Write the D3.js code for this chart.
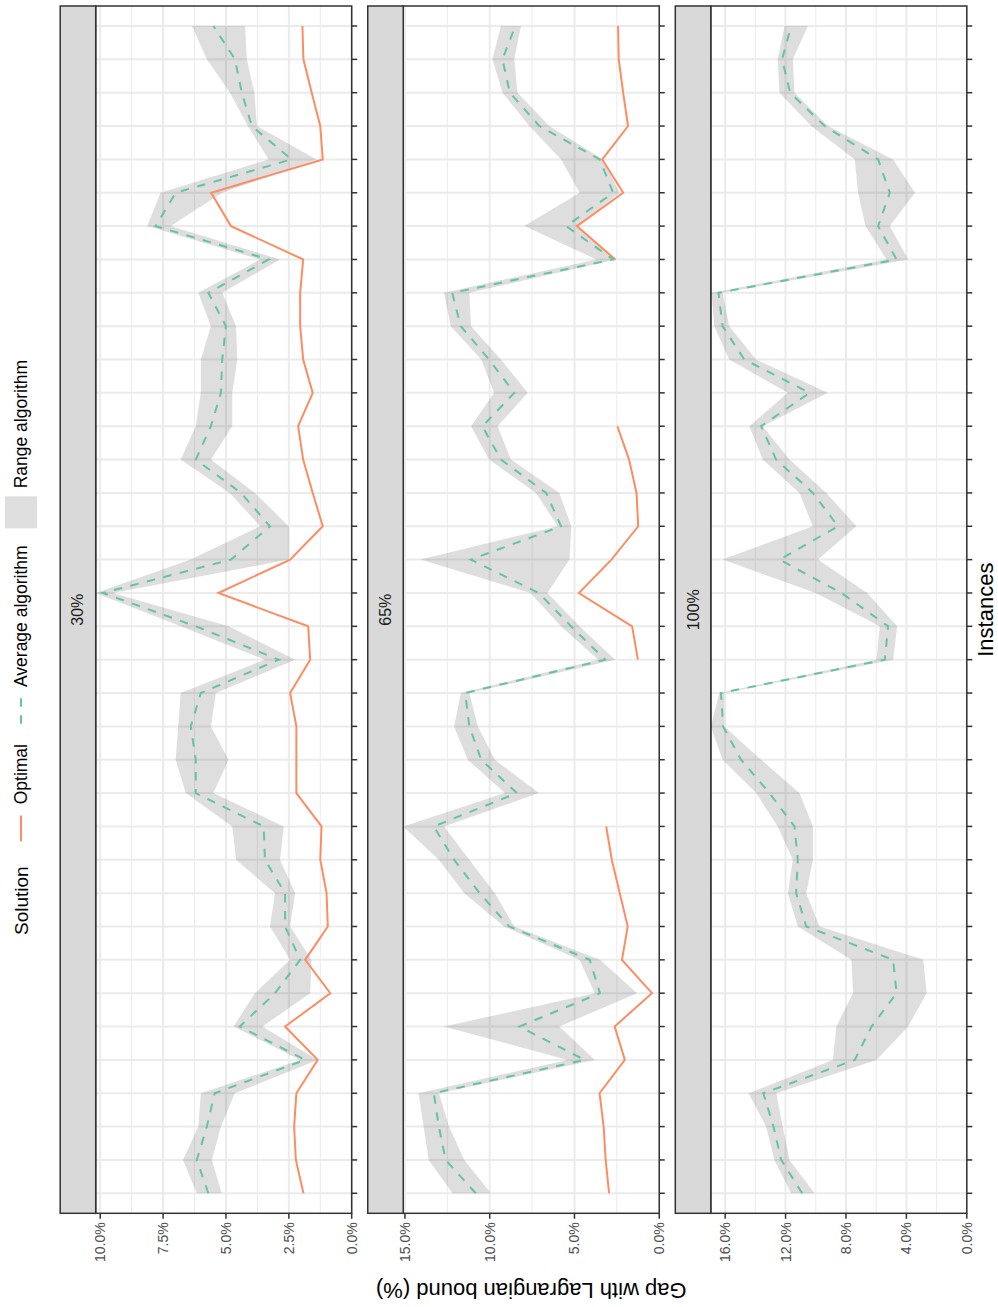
<!DOCTYPE html>
<html><head><meta charset="utf-8">
<script src="https://cdn.jsdelivr.net/npm/d3@7"></script>
<style>body{margin:0;background:#fff} svg{display:block}</style>
</head><body><svg id="chart" width="998" height="1307"></svg>
<script>
// ---------------- data (instance 1 .. 36) ----------------
const instances = [1,2,3,4,5,6,7,8,9,10,11,12,13,14,15,16,17,18,19,20,21,22,23,24,25,26,27,28,29,30,31,32,33,34,35,36];
const facetNames = ["30%", "65%", "100%"];

const avg30 = [5.7,6.16,5.76,5.45,1.85,4.45,3.05,2.05,2.65,2.65,3.45,3.5,6.2,6.2,6.4,6.0,2.9,6.2,9.9,4.8,3.25,4.4,6.2,5.6,5.2,5.15,5.0,5.7,3.3,7.8,7.0,2.4,3.97,4.37,4.64,5.5];
const lo30  = [5.17,5.56,5.2,4.65,1.35,3.55,1.65,1.6,2.45,2.25,2.85,2.7,5.5,4.9,5.6,5.4,2.25,4.9,9.5,2.5,2.5,3.85,5.6,4.75,4.75,4.55,4.6,5.15,2.85,7.2,5.15,1.4,3.77,3.87,4.17,4.24];
const hi30  = [6.16,6.71,6.1,6.0,2.05,4.7,3.85,2.45,3.25,3.05,4.6,4.75,6.6,7.0,6.9,6.8,3.45,6.8,10.18,6.4,3.64,4.85,6.8,6.2,6.0,6.0,5.6,6.1,3.64,8.13,7.6,3.3,4.13,4.84,5.76,6.35];
const opt30 = [1.92,2.22,2.29,2.2,1.35,2.65,0.85,1.85,0.95,1.0,1.25,1.2,2.2,2.2,2.2,2.45,1.65,1.73,5.3,2.45,1.15,1.55,1.93,2.13,1.55,1.93,2.05,2.05,1.93,4.8,5.59,1.15,1.25,1.59,1.92,1.96];

const avg65 = [10.82,12.6,13.0,13.3,4.4,8.25,3.5,4.1,8.85,10.6,12.1,13.3,8.4,10.5,11.2,11.45,3.2,5.2,7.1,11.12,5.79,6.67,9.34,10.43,8.55,10.04,11.71,12.21,2.72,5.49,2.72,3.51,7.07,8.81,9.25,8.49];
const lo65  = [9.93,11.5,12.4,13.0,3.8,5.9,1.3,3.5,8.55,9.7,11.2,12.7,7.1,9.7,10.7,11.2,2.6,4.7,6.6,5.29,5.19,5.89,8.75,9.54,7.76,9.34,11.1,11.2,2.53,4.9,2.33,3.32,6.48,8.36,8.55,8.16];
const hi65  = [12.2,13.6,13.9,14.2,5.4,12.7,3.8,4.7,9.15,11.5,13.0,15.1,9.1,11.3,12.1,11.7,3.6,5.8,7.6,14.08,5.99,7.27,10.04,11.1,9.74,10.5,12.3,12.7,3.71,7.96,4.7,5.79,7.66,9.25,9.84,9.34];
const opt65 = [2.96,3.16,3.28,3.52,2.03,2.63,0.43,2.2,1.86,2.33,2.8,3.13,null,null,null,null,1.26,1.6,4.74,2.82,1.24,1.34,1.78,2.47,null,null,null,null,2.59,4.86,2.13,3.36,1.84,2.13,2.39,2.43];

const avg100 = [10.9,12.29,12.8,13.47,7.42,6.31,4.65,4.88,10.63,11.3,11.19,11.41,13.07,14.95,16.13,16.28,5.43,5.21,8.3,12.4,8.53,10.19,12.62,13.62,10.41,14.73,16.17,16.44,4.65,5.87,5.1,5.87,9.41,11.7,12.23,11.63];
const lo100  = [10.08,11.74,12.19,12.62,5.98,3.88,2.66,2.88,9.75,10.63,10.19,10.19,11.08,13.62,16.06,16.06,4.88,4.61,6.6,9.86,7.31,9.3,11.74,13.51,9.2,13.95,15.73,16.17,3.88,5.1,3.43,4.88,9.19,11.41,11.52,10.52];
const hi100  = [11.63,12.74,13.29,14.45,8.86,8.64,7.53,7.64,11.19,11.85,11.52,12.52,13.95,16.17,16.95,16.39,5.98,5.76,10.0,16.17,10.19,11.08,13.51,14.4,11.85,15.73,16.72,16.9,5.32,6.71,7.2,7.42,10.3,12.4,12.52,12.07];
const opt100 = [];

const ticks30 = [0, 2.5, 5, 7.5, 10];
const ticks65 = [0, 5, 10, 15];
const ticks100 = [0, 4, 8, 12, 16];
const minor30 = [1.25, 3.75, 6.25, 8.75];
const minor65 = [2.5, 7.5, 12.5];
const minor100 = [2, 6, 10, 14];

const legendLabels = ["Optimal", "Average algorithm", "Range algorithm"];

// ---------------- build ----------------
const facets = [
  {name: facetNames[0], avg: avg30, lo: lo30, hi: hi30, opt: opt30, ticks: ticks30, minor: minor30},
  {name: facetNames[1], avg: avg65, lo: lo65, hi: hi65, opt: opt65, ticks: ticks65, minor: minor65},
  {name: facetNames[2], avg: avg100, lo: lo100, hi: hi100, opt: opt100, ticks: ticks100, minor: minor100}
];

const FONT = "'Liberation Sans', Arial, Helvetica, sans-serif";
const ORANGE = "#FC8D62", GREEN = "#66C2A5", DARK = "#333333", GRID = "#ebebeb";

// the ggplot figure is drawn in its own frame (1307 x 998) and rotated 90° counter-clockwise
const svg = d3.select("#chart");
svg.append("rect").attr("width", 998).attr("height", 1307).attr("fill", "#fff");
const root = svg.append("g").attr("transform", "translate(0,1307) rotate(-90)");

const panelX0 = 93.7, panelX1 = 1301;
const x = d3.scalePoint().domain(instances).range([panelX0, panelX1]).padding(0.6);

const firstTop = 60.2, stripH = 35.5, panelH = 256, period = 307.55, tickLen = 5.5;
const fmt = v => d3.format(".1f")(v) + "%";

facets.forEach((f, i) => {
  const sTop = firstTop + i * period;
  const pTop = sTop + stripH, pBot = pTop + panelH;
  const y = d3.scaleLinear().domain([0, d3.max(f.hi)]).range([pBot, pTop]);
  const gF = root.append("g");

  gF.append("rect").attr("x", panelX0).attr("y", pTop).attr("width", panelX1 - panelX0).attr("height", panelH).attr("fill", "#fff");

  // grid
  gF.selectAll(".mn").data(f.minor.filter(v => v <= y.domain()[1])).join("line")
    .attr("x1", panelX0).attr("x2", panelX1).attr("y1", d => y(d)).attr("y2", d => y(d))
    .attr("stroke", GRID).attr("stroke-width", 1);
  gF.selectAll(".mj").data(f.ticks).join("line")
    .attr("x1", panelX0).attr("x2", panelX1).attr("y1", d => y(d)).attr("y2", d => y(d))
    .attr("stroke", GRID).attr("stroke-width", 2);
  gF.selectAll(".vx").data(instances).join("line")
    .attr("x1", d => x(d)).attr("x2", d => x(d)).attr("y1", pTop).attr("y2", pBot)
    .attr("stroke", GRID).attr("stroke-width", 2);

  const rows = instances.map((inst, k) => ({inst, avg: f.avg[k], lo: f.lo[k], hi: f.hi[k], opt: f.opt.length ? f.opt[k] : null}));

  // ribbon
  gF.append("path").datum(rows)
    .attr("d", d3.area().x(d => x(d.inst)).y0(d => y(d.lo)).y1(d => y(d.hi)))
    .attr("fill", "#333").attr("fill-opacity", 0.16);

  // optimal
  gF.append("path").datum(rows)
    .attr("d", d3.line().defined(d => d.opt != null).x(d => x(d.inst)).y(d => y(d.opt)))
    .attr("fill", "none").attr("stroke", ORANGE).attr("stroke-width", 2);

  // average
  gF.append("path").datum(rows)
    .attr("d", d3.line().x(d => x(d.inst)).y(d => y(d.avg)))
    .attr("fill", "none").attr("stroke", GREEN).attr("stroke-width", 2).attr("stroke-dasharray", "8.5,8.5");

  // border
  gF.append("rect").attr("x", panelX0).attr("y", pTop).attr("width", panelX1 - panelX0).attr("height", panelH)
    .attr("fill", "none").attr("stroke", DARK).attr("stroke-width", 1.5);

  // strip
  gF.append("rect").attr("x", panelX0).attr("y", sTop).attr("width", panelX1 - panelX0).attr("height", stripH)
    .attr("fill", "#d9d9d9").attr("stroke", DARK).attr("stroke-width", 1.5);
  gF.append("text").attr("x", (panelX0 + panelX1) / 2).attr("y", sTop + stripH / 2)
    .attr("text-anchor", "middle").attr("dominant-baseline", "central")
    .attr("font-family", FONT).attr("font-size", 16).attr("fill", "#1a1a1a").text(f.name);

  // gap axis (left in this frame)
  gF.selectAll(".tk").data(f.ticks).join("line")
    .attr("x1", panelX0).attr("x2", panelX0 - tickLen).attr("y1", d => y(d)).attr("y2", d => y(d))
    .attr("stroke", DARK).attr("stroke-width", 1.5);
  gF.selectAll(".tl").data(f.ticks).join("text")
    .attr("x", panelX0 - tickLen - 3.5).attr("y", d => y(d))
    .attr("text-anchor", "end").attr("dominant-baseline", "central")
    .attr("font-family", FONT).attr("font-size", 14).attr("fill", "#4d4d4d").text(d => fmt(d));

  // instance axis ticks (bottom in this frame, no labels)
  gF.selectAll(".ti").data(instances).join("line")
    .attr("x1", d => x(d)).attr("x2", d => x(d)).attr("y1", pBot).attr("y2", pBot + tickLen)
    .attr("stroke", DARK).attr("stroke-width", 1.5);
});

// axis titles
root.append("text").attr("transform", `translate(17,${(firstTop + stripH + 2 * period + firstTop + stripH + panelH) / 2}) rotate(-90)`)
  .attr("text-anchor", "middle").attr("dominant-baseline", "central")
  .attr("font-family", FONT).attr("font-size", 22).attr("fill", "#000").text("Gap with Lagrangian bound (%)");
root.append("text").attr("x", (panelX0 + panelX1) / 2).attr("y", 985)
  .attr("text-anchor", "middle").attr("dominant-baseline", "central")
  .attr("font-family", FONT).attr("font-size", 22).attr("fill", "#000").text("Instances");

// legend (top in this frame)
const lg = root.append("g");
const keyW = 32, keyTop = 5, keyMid = keyTop + keyW / 2;
let cx = 372;
const title = lg.append("text").attr("x", cx).attr("y", keyMid).attr("dominant-baseline", "central")
  .attr("font-family", FONT).attr("font-size", 19).attr("fill", "#000").text("Solution");
cx += title.node().getComputedTextLength() + 22;
legendLabels.forEach((lab, i) => {
  lg.append("rect").attr("x", cx).attr("y", keyTop).attr("width", keyW).attr("height", keyW)
    .attr("fill", i === 2 ? "#333" : "#fff").attr("fill-opacity", i === 2 ? 0.16 : 1);
  if (i === 0) lg.append("line").attr("x1", cx + 0.1 * keyW).attr("x2", cx + 0.9 * keyW).attr("y1", keyMid).attr("y2", keyMid)
    .attr("stroke", ORANGE).attr("stroke-width", 2);
  if (i === 1) lg.append("line").attr("x1", cx + 0.1 * keyW).attr("x2", cx + 0.9 * keyW).attr("y1", keyMid).attr("y2", keyMid)
    .attr("stroke", GREEN).attr("stroke-width", 2).attr("stroke-dasharray", "8.5,8.5");
  cx += keyW + 8;
  const t = lg.append("text").attr("x", cx).attr("y", keyMid).attr("dominant-baseline", "central")
    .attr("font-family", FONT).attr("font-size", 17.5).attr("fill", "#000").text(lab);
  cx += t.node().getComputedTextLength() + 17;
});
</script>
</body></html>
